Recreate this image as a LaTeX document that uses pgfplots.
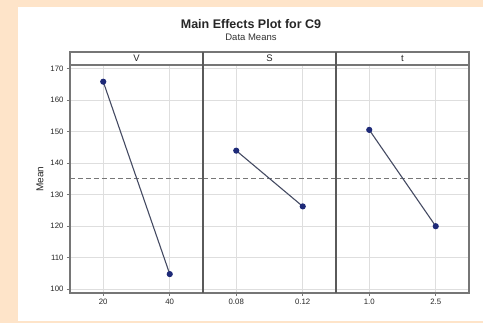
\documentclass[border=0pt]{standalone}
\usepackage{pgfplots}
\pgfplotsset{compat=1.18}
\usepackage{fontspec}
\setmainfont{Liberation Sans}
\definecolor{peach}{HTML}{FEE4C9}
\definecolor{framec}{HTML}{767676}
\definecolor{sepc}{HTML}{5A5A5A}
\definecolor{gridc}{HTML}{DEDEDE}
\definecolor{linec}{HTML}{454B63}
\definecolor{markc}{HTML}{1E2A78}
\begin{document}
\begin{tikzpicture}[x=1pt,y=1pt]
\fill[peach] (0,0) rectangle (483,323);
\fill[white] (18,2) rectangle (483,316);
\node[anchor=base, font=\bfseries\fontsize{12.5}{14}\selectfont, text=black!85] at (251,294.7) {Main Effects Plot for C9};
\node[anchor=base, font=\fontsize{9.5}{11}\selectfont, text=black!80] at (251,282) {Data Means};
\pgfplotsset{
  panel/.style={
    anchor=south west, scale only axis, width=133pt, height=228pt,
    xmin=0, xmax=4, ymin=98.7, ymax=171.1,
    xtick={1,3}, ytick={100,110,...,170},
    grid=major, major grid style={draw=gridc, line width=0.6pt},
    axis line style={draw=framec, line width=1.6pt},
    tick align=outside, major tick length=3pt,
    tick style={draw=framec, line width=0.6pt},
    ticklabel style={font=\fontsize{7.8}{9}\selectfont, text=black!85},
    /pgf/number format/assume math mode=true,
    ylabel style={font=\fontsize{10}{11}\selectfont, text=black!85},
  },
  dataline/.style={color=linec, line width=1.1pt, mark=*, mark size=2.5pt, mark options={fill=markc, draw=markc}},
  meanline/.style={draw=framec, line width=0.8pt, dash pattern=on 5pt off 3pt},
}
\begin{axis}[panel, at={(70pt,30pt)}, xticklabels={20,40}, ylabel={Mean}]
\addplot[meanline] coordinates {(0,135.15) (4,135.15)};
\addplot[dataline] coordinates {(1,165.8) (3,104.7)};
\end{axis}
\begin{axis}[panel, at={(203pt,30pt)}, xticklabels={0.08,0.12}, yticklabels={}, ytick style={draw=none}]
\addplot[meanline] coordinates {(0,135.15) (4,135.15)};
\addplot[dataline] coordinates {(1,143.9) (3,126.2)};
\end{axis}
\begin{axis}[panel, at={(336pt,30pt)}, xticklabels={1.0,2.5}, yticklabels={}, ytick style={draw=none}]
\addplot[meanline] coordinates {(0,135.15) (4,135.15)};
\addplot[dataline] coordinates {(1,150.5) (3,119.9)};
\end{axis}
\foreach \xa/\xb/\lab in {70/203/V, 203/336/S, 336/469/t}{
  \draw[framec, line width=1.6pt, fill=white] (\xa,258) rectangle (\xb,271);
  \node[font=\fontsize{9.5}{10}\selectfont, text=black!85] at ({(\xa+\xb)/2},264.5) {\lab};
}
\draw[sepc, line width=1.8pt] (203,30) -- (203,271);
\draw[sepc, line width=1.8pt] (336,30) -- (336,271);
\end{tikzpicture}
\end{document}
